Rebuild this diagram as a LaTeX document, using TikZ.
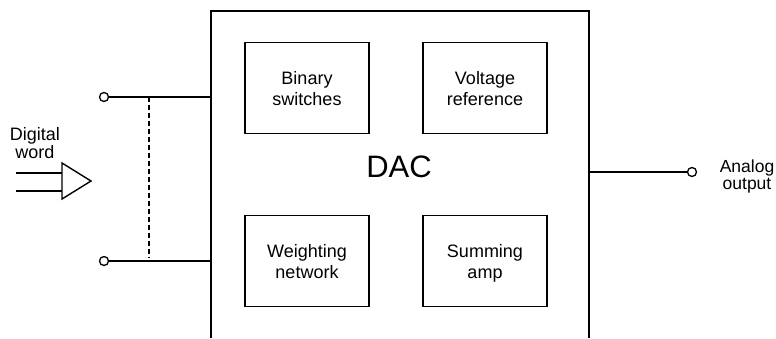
\documentclass[tikz,border=0pt]{standalone}
\usepackage{fontspec}
\setmainfont{Liberation Sans}
% two centred lines, first baseline set slightly below the middle
\newcommand{\twolines}[2]{\begin{tabular}{@{}c@{}}\rule{0pt}{20.6pt}#1\\#2\end{tabular}}
\begin{document}
\begin{tikzpicture}[x=1pt,y=-1pt,
  wire/.style={line width=1.4pt},
  block/.style={draw,line width=1.4pt,minimum width=124pt,minimum height=91pt,
    inner sep=0pt,font=\fontsize{18}{20.5}\selectfont},
  terminal/.style={draw,circle,line width=1.3pt,fill=white,inner sep=0pt,minimum size=9pt},
  lbl/.style={align=center,inner sep=0pt,font=\fontsize{18}{18}\selectfont}]
\useasboundingbox (0,0) rectangle (776,338);

% DAC enclosure, open at the bottom
\coordinate (bl) at (211,338);
\coordinate (tl) at (211,11);
\coordinate (tr) at (589,11);
\coordinate (br) at (589,338);
\draw[wire,line join=miter] (bl) -- (tl) -- (tr) -- (br);

% inner function blocks
\node[block] (sw)  at (307,88)  {\twolines{Binary}{switches}};
\node[block] (ref) at (485,88)  {\twolines{Voltage}{reference}};
\node[block] (net) at (307,261) {\twolines{Weighting}{network}};
\node[block] (amp) at (485,261) {\twolines{Summing}{amp}};
\node[font=\fontsize{31}{36}\selectfont] (dac) at (399,167) {DAC};

% input terminals and bus
\node[terminal] (t1) at (104,97) {};
\node[terminal] (t2) at (104,261) {};
\coordinate (e1) at (211,97);
\coordinate (e2) at (211,261);
\draw[wire] (t1) -- (e1);
\draw[wire] (t2) -- (e2);
\coordinate (d1) at (149,97);
\coordinate (d2) at (149,258);
\draw[line width=1.2pt,dash pattern=on 5pt off 3pt] (d1) -- (d2);

% digital word input buffer
\coordinate (ba) at (62,163);
\coordinate (bt) at (91,181);
\coordinate (bb) at (62,199);
\draw[wire,line join=miter] (ba) -- (bt) -- (bb) -- cycle;
\coordinate (i1) at (16,173);
\coordinate (i2) at (16,191);
\draw[wire] (i1) -- (i1 -| ba);
\draw[wire] (i2) -- (i2 -| ba);
\node[lbl] (dw) at (35,143) {Digital\\word};

% analog output
\coordinate (eo) at (589,172);
\node[terminal] (to) at (692,172) {};
\draw[wire] (eo) -- (to);
\node[lbl,font=\fontsize{17.5}{17}\selectfont] (ao) at (747,176) {Analog\\output};
\end{tikzpicture}
\end{document}
